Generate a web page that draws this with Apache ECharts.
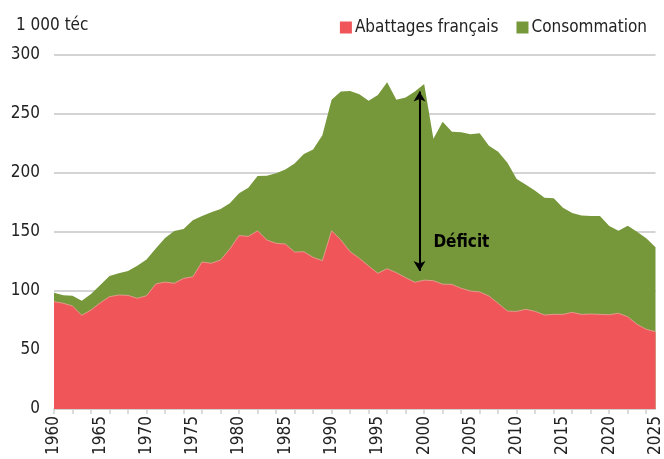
<!DOCTYPE html>
<html>
<head>
<meta charset="utf-8">
<script src="https://cdn.jsdelivr.net/npm/echarts@6/dist/echarts.min.js"></script>
<style>
	html, body { margin: 0; padding: 0; background: #fff; }
	#chart { width: 664px; height: 459px; }
</style>
</head>
<body>
<div id="chart"></div>
<script>
/* années 1960 - 2025 */
const years = [];
for (let y = 1960; y <= 2025; y++) years.push(String(y));

/* consommation, 1 000 téc */
const consommation = [
	98.6, 96.3, 96, 91.8, 97.5, 105, 112.7, 115, 117, 121.5,
	126.8, 136, 145, 150.8, 152.5, 160, 163.5, 166.7, 169.5, 174.3,
	182.8, 187.5, 197.5, 197.7, 199.7, 203, 208, 216, 220, 232,
	262, 269, 269.5, 266.7, 261.3, 266, 277, 262, 264, 269,
	275.5, 229, 243.5, 235, 234.5, 232.8, 233.6, 223, 218, 208.7,
	195, 190, 185, 179, 178.5, 170.6, 166, 164, 163.6, 163.6,
	155, 151, 155.4, 150.3, 144.6, 137
];

/* abattages français, 1 000 téc */
const abattages = [
	91, 89.6, 87.3, 79.4, 83.9, 90, 95.2, 96.6, 96.3, 93.8,
	96, 106, 107.6, 106.5, 110.7, 112, 124.6, 123.5, 126.3, 135.6,
	147, 146.3, 151, 143.2, 140.4, 139.8, 133, 133.3, 128.5, 125.7,
	151, 143.2, 133.3, 127.7, 121.2, 115, 118.9, 115.5, 111.3, 107.4,
	109.2, 108.7, 105.8, 105.6, 102.3, 100, 99.2, 95.8, 89.5, 83,
	82.7, 84.5, 82.7, 79.7, 80.2, 80.2, 81.9, 80.2, 80.5, 80.2,
	79.9, 81.1, 78.2, 71.8, 67.5, 65.5
];

/* flèche du déficit : [année, haut, bas] */
const deficitArrow = [1999.5, 269, 117];
const deficitLabel = [2001.0, 141];

const font = "'Liberation Sans Narrow', 'DejaVu Sans Condensed', 'Roboto Condensed', sans-serif";
const red = '#f0555a';
const green = '#76983b';

const chart = echarts.init(document.getElementById('chart'));
chart.setOption({
	animation: false,
	textStyle: { fontFamily: font },
	title: {
		text: '1 000 téc',
		left: 11,
		top: 12,
		textStyle: { fontFamily: font, fontSize: 17, fontWeight: 'normal', color: '#222' }
	},
	legend: {
		data: ['Abattages français', 'Consommation'],
		right: 12,
		top: 14,
		itemWidth: 12,
		itemHeight: 12,
		itemGap: 18,
		icon: 'rect',
		textStyle: { fontFamily: font, fontSize: 17, color: '#222', padding: [0, 0, 0, -2] }
	},
	grid: {
		left: 54,
		right: 8,
		top: 55,
		bottom: 50
	},
	xAxis: [
		{
			type: 'category',
			data: years,
			boundaryGap: false,
			axisLine: { lineStyle: { color: '#d0d0d0', width: 1.5 } },
			axisTick: { interval: 1, length: 5, lineStyle: { color: '#d0d0d0', width: 1.5 } },
			axisLabel: { interval: 4, rotate: 90, fontSize: 17, color: '#222', margin: 7, fontFamily: font }
		},
		{
			type: 'value',
			min: 1960,
			max: 2025,
			show: false
		}
	],
	yAxis: {
		type: 'value',
		min: 0,
		max: 300,
		interval: 50,
		axisLine: { show: false },
		axisTick: { show: false },
		axisLabel: { fontSize: 17, color: '#222', margin: 14, fontFamily: font },
		splitLine: { lineStyle: { color: '#d4d4d4', width: 2 } }
	},
	series: [
		{
			name: 'Consommation',
			type: 'line',
			data: consommation,
			showSymbol: false,
			lineStyle: { width: 0 },
			itemStyle: { color: green },
			areaStyle: { color: green, opacity: 1 }
		},
		{
			name: 'Abattages français',
			type: 'line',
			data: abattages,
			showSymbol: false,
			lineStyle: { width: 0.8, color: '#e9a39a' },
			itemStyle: { color: red },
			areaStyle: { color: red, opacity: 1 }
		},
		{
			type: 'line',
			xAxisIndex: 1,
			data: [],
			markLine: {
				silent: true,
				symbol: ['arrow', 'arrow'],
				symbolSize: [9, 10],
				label: { show: false },
				lineStyle: { color: '#000', width: 2, type: 'solid' },
				data: [[
					{ coord: [deficitArrow[0], deficitArrow[1]] },
					{ coord: [deficitArrow[0], deficitArrow[2]] }
				]]
			},
			markPoint: {
				silent: true,
				symbol: 'circle',
				symbolSize: 0,
				label: {
					show: true,
					position: 'right',
					distance: 0,
					formatter: 'Déficit',
					fontFamily: font,
					fontSize: 17,
					fontWeight: 'bold',
					color: '#000'
				},
				data: [{ coord: deficitLabel }]
			}
		}
	]
});
</script>
</body>
</html>
